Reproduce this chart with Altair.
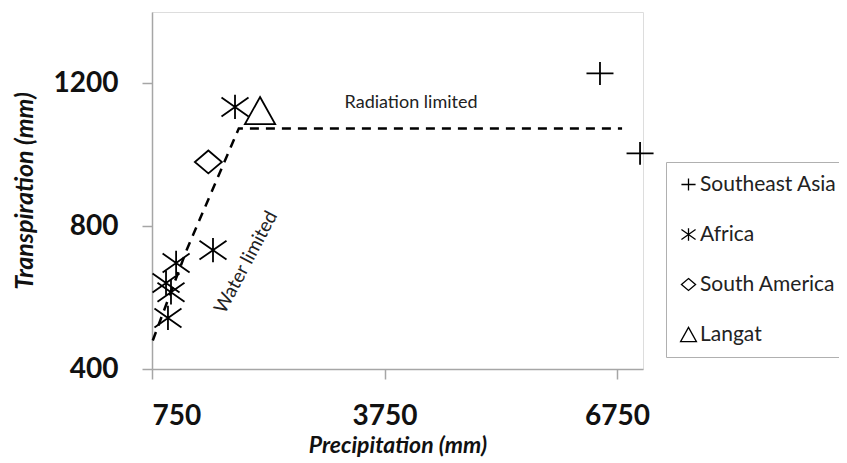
import altair as alt
import pandas as pd

# ---- data ----
regions = ["Southeast Asia", "Africa", "South America", "Langat"]

sea_precip = [6530, 7047]
sea_transp = [1228, 1004]
africa_precip = [1821, 1537, 1061, 931, 995, 956]
africa_transp = [1134, 733, 697, 641, 615, 543]
sam_precip = [1477]
sam_transp = [980]
langat_precip = [2144]
langat_transp = [1124]

line_precip = [760, 1200, 1870, 6815]
line_transp = [480, 735, 1074, 1074]

x_ticks = [750, 3750, 6750]
y_ticks = [400, 800, 1200]

annot_text = ["Radiation limited", "Water limited"]
annot_precip = [4092, 1963]
annot_transp = [1144, 699]

# ---- tables ----
rows = []
for r, xs, ys in [
    ("Southeast Asia", sea_precip, sea_transp),
    ("Africa", africa_precip, africa_transp),
    ("South America", sam_precip, sam_transp),
    ("Langat", langat_precip, langat_transp),
]:
    for x, y in zip(xs, ys):
        rows.append({"Region": r, "P": x, "T": y})
pts = pd.DataFrame(rows)
line_df = pd.DataFrame({"P": line_precip, "T": line_transp, "o": range(len(line_precip))})
annot_df = pd.DataFrame({"label": annot_text, "P": annot_precip, "T": annot_transp})

shape_paths = [
    "M-1,0L1,0M0,-0.85L0,0.85",
    "M0,-0.9L0,0.9M-1,-0.7L1,0.7M-1,0.7L1,-0.7",
    "M0,-0.85L1,0L0,0.85L-1,0Z",
    "M0,-1L1.12,1L-1.12,1Z",
]

xscale = alt.Scale(domain=[750, 7085], nice=False, zero=False)
yscale = alt.Scale(domain=[400, 1400], nice=False, zero=False)

xaxis = alt.Axis(
    values=x_ticks, format="d", title="Precipitation (mm)", grid=False,
    labelFont="Lato", labelFontSize=28, labelFontWeight="bold", labelColor="#111",
    labelPadding=23, tickSize=10, tickColor="#a6a6a6", domainColor="#a6a6a6",
    domainWidth=1.5, tickWidth=1.5,
    titleFont="Lato", titleFontSize=23, titleFontWeight="bold", titleFontStyle="italic",
    titleColor="#111", titleY=76, titleBaseline="middle", titleX=245.5,
)
yaxis = alt.Axis(
    values=y_ticks, format="d", title="Transpiration (mm)", grid=False,
    labelFont="Lato", labelFontSize=28, labelFontWeight="bold", labelColor="#111",
    labelPadding=24, tickSize=10, tickColor="#a6a6a6", domainColor="#a6a6a6",
    domainWidth=1.5, tickWidth=1.5,
    titleFont="Lato", titleFontSize=25, titleFontWeight="bold", titleFontStyle="italic",
    titleColor="#111", titleX=-128, titleY=178.5, titleAngle=270,
    titleBaseline="middle", titleAlign="center",
)

points = alt.Chart(pts).mark_point(
    filled=False, color="black", strokeWidth=1.8, opacity=1, size=729
).encode(
    x=alt.X("P:Q", scale=xscale, axis=xaxis),
    y=alt.Y("T:Q", scale=yscale, axis=yaxis),
    shape=alt.Shape(
        "Region:N",
        scale=alt.Scale(domain=regions, range=shape_paths),
        sort=regions,
        legend=alt.Legend(
            title=None, orient="none", legendX=514, legendY=150,
            strokeColor="#b0b0b0", padding=12, rowPadding=28,
            labelFont="Lato", labelFontSize=21, labelColor="#222",
            symbolSize=200, symbolStrokeColor="black", symbolStrokeWidth=1.3,
            symbolFillColor="transparent", labelOffset=1, labelLimit=400,
        ),
    ),
)

line = alt.Chart(line_df).mark_line(color="black", strokeWidth=2.5, strokeDash=[9, 7]).encode(
    x=alt.X("P:Q", scale=xscale), y=alt.Y("T:Q", scale=yscale), order="o:Q"
)

rad_text = alt.Chart(annot_df[annot_df.label == "Radiation limited"]).mark_text(
    font="Lato", fontSize=18, color="#222"
).encode(x=alt.X("P:Q", scale=xscale), y=alt.Y("T:Q", scale=yscale), text="label:N")

water_text = alt.Chart(annot_df[annot_df.label == "Water limited"]).mark_text(
    font="Lato", fontSize=19, color="#222", angle=298
).encode(x=alt.X("P:Q", scale=xscale), y=alt.Y("T:Q", scale=yscale), text="label:N")

chart = alt.layer(line, points, rad_text, water_text).properties(
    width=491, height=357,
    autosize=alt.AutoSizeParams(type="none"),
    padding={"left": 144, "top": 4, "right": 196, "bottom": 94},
).configure_view(stroke="#a6a6a6", strokeWidth=1.5).configure(background="white")

chart.save("out.html", embed_options={"renderer": "svg", "actions": False})
